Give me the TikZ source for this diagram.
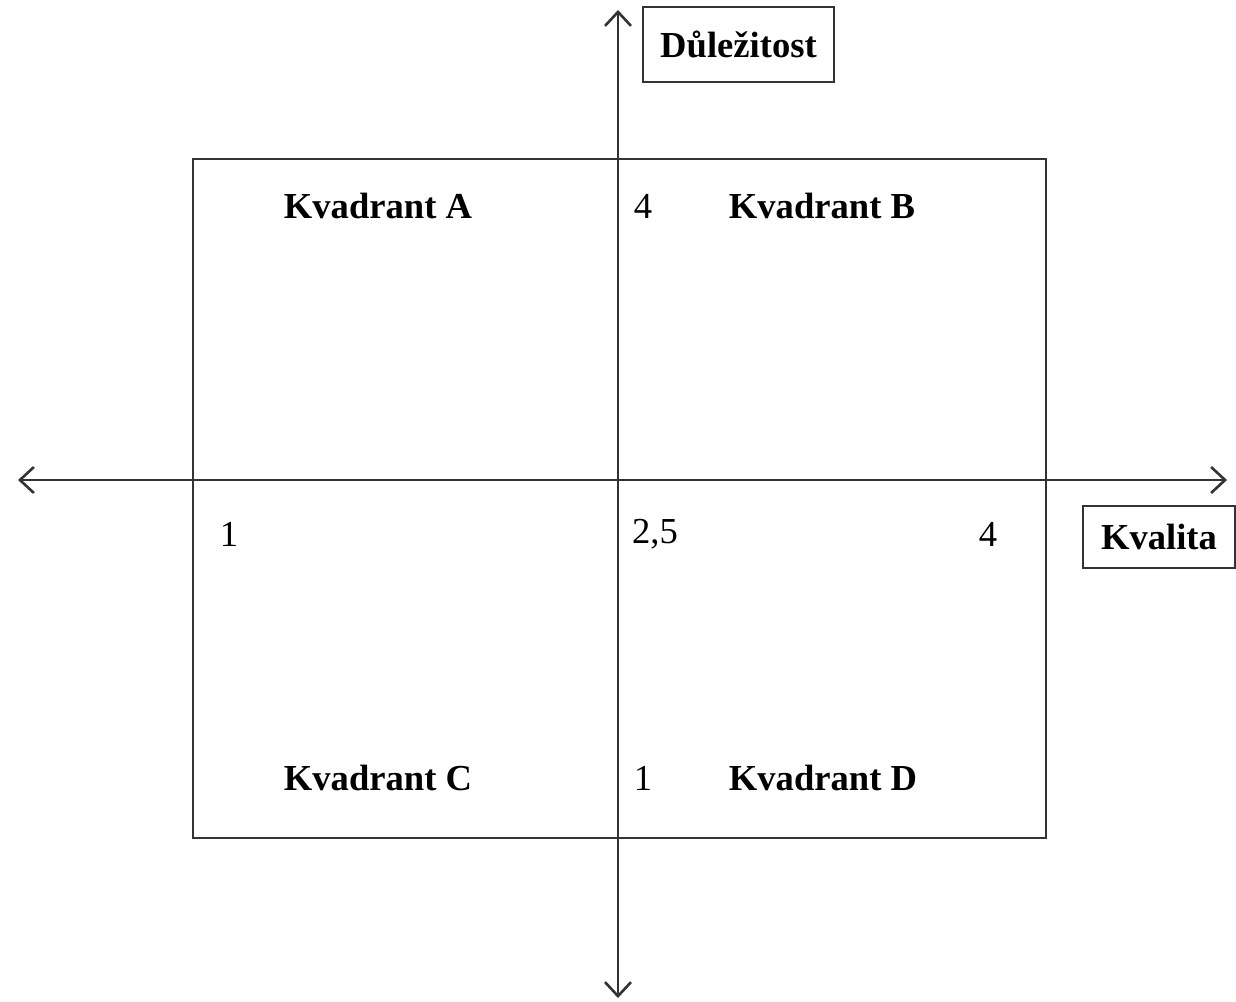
\documentclass[tikz,border=0pt]{standalone}
\usepackage{fontspec}
\setmainfont{Liberation Serif}
\usetikzlibrary{arrows.meta}
\begin{document}
\begin{tikzpicture}[x=0.5pt,y=-0.5pt,
  axis/.style={line width=1.3pt,draw=black!80,{Straight Barb[length=7pt,width=13pt,line width=1.3pt]}-{Straight Barb[length=7pt,width=13pt,line width=1.3pt]}},
  quad/.style={font=\fontsize{18.3}{20}\selectfont\bfseries,inner sep=0pt},
  num/.style={font=\fontsize{18.3}{20}\selectfont,inner sep=0pt},
  lbox/.style={draw=black!80,line width=1.2pt,font=\fontsize{18.3}{20}\selectfont\bfseries,inner sep=0pt}]
\useasboundingbox (0,0) rectangle (1236,1001);
\node[draw=black!80,line width=1.2pt,minimum width=426.5pt,minimum height=339.5pt,inner sep=0pt] (frame) at (619.5,498.5) {};
\coordinate (top) at (618,10);
\coordinate (bot) at (618,998);
\coordinate (left) at (18,480);
\coordinate (right) at (1227,480);
\draw[axis] (bot) -- (top);
\draw[axis] (left) -- (right);
\node[lbox,minimum width=95.5pt,minimum height=37.5pt] (dul) at (738.5,44.5) {Důležitost};
\node[lbox,minimum width=76pt,minimum height=31pt] (kval) at (1159,537) {Kvalita};
\node[quad] (qa) at (378,206) {Kvadrant A};
\node[quad] (qb) at (822,206) {Kvadrant B};
\node[quad] (qc) at (378,778) {Kvadrant C};
\node[quad] (qd) at (823,778) {Kvadrant D};
\node[num] (n4t) at (643,206) {4};
\node[num] (n1b) at (643,778) {1};
\node[num] (n1l) at (229,534) {1};
\node[num] (n25) at (655,534) {2,5};
\node[num] (n4r) at (988,534) {4};
\end{tikzpicture}
\end{document}
